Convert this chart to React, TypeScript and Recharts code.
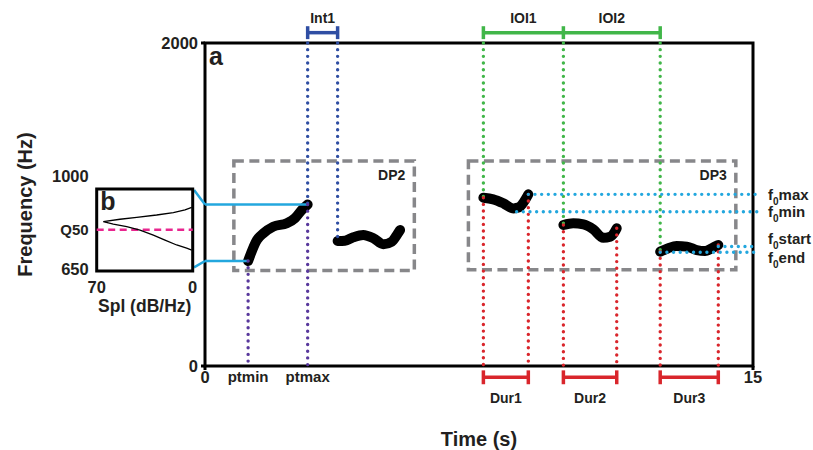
import React from 'react';
import { ComposedChart, Line, XAxis, YAxis, ReferenceLine, ReferenceArea, Scatter } from 'recharts';

const FONT = '"Liberation Sans", Arial, Helvetica, sans-serif';
const INK = '#231f20';
const BLUE = '#2f4ea3';
const PURPLE = '#58389c';
const GREEN = '#41b649';
const RED = '#d9262c';
const CYAN = '#23a7de';
const GRAY = '#87878a';
const MAGENTA = '#e8268f';

// ---- main panel (a) ----
const timeDomain = [0, 15];
const freqDomain = [0, 2000];
const timeTicks = [0, 15];
const freqTicks = [0, 2000];

// pitch contours (time s, frequency Hz)
const contourDP2a = [
  { t: 1.18, f: 650 }, { t: 1.42, f: 780 }, { t: 1.6, f: 822 }, { t: 1.87, f: 863 },
  { t: 2.24, f: 884 }, { t: 2.46, f: 915 }, { t: 2.65, f: 966 }, { t: 2.81, f: 1000 },
];
const contourDP2b = [
  { t: 3.63, f: 774 }, { t: 3.83, f: 776 }, { t: 4.06, f: 797 }, { t: 4.33, f: 811 },
  { t: 4.61, f: 791 }, { t: 4.88, f: 754 }, { t: 5.11, f: 770 }, { t: 5.25, f: 811 }, { t: 5.34, f: 842 },
];
const contourDP3a = [
  { t: 7.62, f: 1042 }, { t: 7.89, f: 1032 }, { t: 8.17, f: 1007 }, { t: 8.44, f: 976 },
  { t: 8.6, f: 983 }, { t: 8.73, f: 1017 }, { t: 8.85, f: 1063 },
];
const contourDP3b = [
  { t: 9.81, f: 873 }, { t: 10.08, f: 884 }, { t: 10.36, f: 877 }, { t: 10.63, f: 846 },
  { t: 10.9, f: 794 }, { t: 11.09, f: 801 }, { t: 11.22, f: 832 }, { t: 11.27, f: 853 },
];
const contourDP3c = [
  { t: 12.46, f: 708 }, { t: 12.68, f: 729 }, { t: 12.91, f: 743 }, { t: 13.19, f: 739 },
  { t: 13.46, f: 718 }, { t: 13.69, f: 712 }, { t: 13.87, f: 729 }, { t: 14.05, f: 749 },
];
const contours = [contourDP2a, contourDP2b, contourDP3a, contourDP3b, contourDP3c];
const dp3Notes = [contourDP3a, contourDP3b, contourDP3c];

// dashed display-phrase boxes
const dpBoxes = [
  { name: 'DP2', t1: 0.79, t2: 5.73, f1: 591, f2: 1269 },
  { name: 'DP3', t1: 7.21, t2: 14.53, f1: 596, f2: 1269 },
];

// f0 measure lines (label, frequency, start time)
const f0Lines = [
  { sub: 'max', f: 1063, t: 8.85, dy: 5.7 },
  { sub: 'min', f: 955, t: 8.53, dy: 5 },
  { sub: 'start', f: 740, t: 14.05, dy: -2.7 },
  { sub: 'end', f: 704, t: 12.46, dy: 10.6 },
];
const f0LineEnd = 15.11;

// pitch-range connectors from inset (b)
const connectorTop = [{ t: -0.3, f: 1090 }, { t: 0, f: 1000 }, { t: 2.81, f: 1000 }];
const connectorBottom = [{ t: -0.3, f: 611 }, { t: 0, f: 650 }, { t: 1.18, f: 650 }];

// bracket levels
const topBracketF = 2064;
const topTick = 40;
const bottomBracketF = -70;
const bottomTick = 43;

// ---- inset panel (b) ----
const splDomain = [0, 70];
const splTicks = [70, 0];
const insetFreqDomain = [642, 1000];
const Q50 = 797;
const insetFreqTicks = [650, Q50, 1000];
const insetBoxTop = 951;
const spectrum = [
  { spl: 0.7, f: 882 }, { spl: 5.6, f: 872 }, { spl: 14.1, f: 862 }, { spl: 26.3, f: 853 },
  { spl: 40.8, f: 844 }, { spl: 53.0, f: 837 }, { spl: 65.2, f: 828 }, { spl: 57.9, f: 819 },
  { spl: 48.1, f: 809 }, { spl: 38.4, f: 796 }, { spl: 28.7, f: 777 }, { spl: 20.2, f: 758 },
  { spl: 11.7, f: 740 }, { spl: 4.4, f: 728 }, { spl: 0.7, f: 721 },
];

const txt = { fill: INK, fontFamily: FONT, fontWeight: 700 };
const dotted = { strokeDasharray: '0 6.67', strokeLinecap: 'round' as const, strokeWidth: 3.4 };

const freqTitle = (props: any) => {
  const vb = props.viewBox;
  const x = vb.x + 32;
  const y = vb.y + vb.height / 2;
  return (
    <text x={x} y={y} transform={`rotate(-90 ${x} ${y})`} textAnchor="middle" {...txt} fontSize={20}>
      Frequency (Hz)
    </text>
  );
};

const f0Label = (sub: string, dy: number) => (props: any) => {
  const vb = props.viewBox;
  const x = vb.x + vb.width + 11;
  const y = vb.y + dy;
  return (
    <text x={x} y={y} {...txt} fontSize={15}>
      f<tspan dy={5} fontSize={10}>0</tspan>
      <tspan dy={-5}>{sub}</tspan>
    </text>
  );
};

const InsetYTick = (props: any) => {
  const { x, y, payload } = props;
  const isQ = payload.value === Q50;
  return (
    <text x={x} y={y} dy={isQ ? 5.5 : 6} textAnchor="end" {...txt} fontSize={isQ ? 15 : 16.5}>
      {isQ ? 'Q50' : payload.value}
    </text>
  );
};

const NoShape = () => <g />;

function seg(key: string, a: { t: number; f: number }, b: { t: number; f: number }, color: string, extra: any = {}) {
  return (
    <ReferenceLine
      key={key}
      segment={[{ x: a.t, y: a.f }, { x: b.t, y: b.f }]}
      stroke={color}
      ifOverflow="visible"
      {...extra}
    />
  );
}

function bracket(key: string, stops: number[], level: number, tick: number, color: string, labels: string[], pos: 'top' | 'bottom', offset: number) {
  const els: any[] = [];
  stops.forEach((s, i) => {
    els.push(seg(`${key}-tick-${i}`, { t: s, f: level - tick }, { t: s, f: level + tick }, color, { strokeWidth: 3.5 }));
  });
  for (let i = 0; i < stops.length - 1; i++) {
    els.push(
      seg(`${key}-bar-${i}`, { t: stops[i], f: level }, { t: stops[i + 1], f: level }, color, {
        strokeWidth: 3.5,
        label: { value: labels[i], position: pos, offset, ...txt, fontSize: 14 },
      })
    );
  }
  return els;
}

export default function App() {
  const c1 = contourDP2a;
  const c2 = contourDP2b;
  const first = (c: any[]) => c[0];
  const last = (c: any[]) => c[c.length - 1];

  return (
    <div style={{ position: 'absolute', left: 0, top: 0, width: 813, height: 450, background: '#fff' }}>
      <div style={{ position: 'absolute', left: 0, top: 0 }}>
        <ComposedChart width={813} height={450} margin={{ top: 43, right: 60, bottom: 54, left: 0 }}>
          <XAxis
            type="number"
            dataKey="t"
            domain={timeDomain}
            ticks={timeTicks}
            allowDataOverflow
            height={30}
            axisLine={false}
            tickLine={{ stroke: '#000', strokeWidth: 3 }}
            tickSize={4}
            tickMargin={1}
            tick={{ ...txt, fontSize: 16.5 }}
            label={{ value: 'Time (s)', position: 'bottom', offset: 35.7, ...txt, fontSize: 20 }}
          />
          <YAxis
            type="number"
            dataKey="f"
            domain={freqDomain}
            ticks={freqTicks}
            allowDataOverflow
            width={205}
            axisLine={false}
            tickLine={{ stroke: '#000', strokeWidth: 3 }}
            tickSize={4}
            tickMargin={3}
            tick={{ ...txt, fontSize: 16.5 }}
            label={freqTitle}
          />

          {dpBoxes.map((b) => (
            <ReferenceArea
              key={b.name}
              x1={b.t1}
              x2={b.t2}
              y1={b.f1}
              y2={b.f2}
              fill="none"
              stroke={GRAY}
              strokeWidth={3.5}
              strokeDasharray="10 5.5"
              ifOverflow="visible"
              label={{ value: b.name, position: 'insideTopRight', offset: 9, ...txt, fontSize: 14 }}
            />
          ))}

          {contours.map((c, i) => (
            <Line
              key={`c${i}`}
              data={c}
              dataKey="f"
              type="monotone"
              stroke="#000"
              strokeWidth={10}
              strokeLinecap="round"
              dot={false}
              activeDot={false}
              isAnimationActive={false}
            />
          ))}

          {/* connectors from inset */}
          {seg('cyt0', connectorTop[0], connectorTop[1], CYAN, { strokeWidth: 2.5 })}
          {seg('cyt1', connectorTop[1], connectorTop[2], CYAN, { strokeWidth: 2.5 })}
          {seg('cyb0', connectorBottom[0], connectorBottom[1], CYAN, { strokeWidth: 2.5 })}
          {seg('cyb1', connectorBottom[1], connectorBottom[2], CYAN, { strokeWidth: 2.5 })}

          {/* DP2 timing lines */}
          {seg('ptmin', first(c1), { t: first(c1).t, f: 0 }, PURPLE, {
            ...dotted,
            label: { value: 'ptmin', position: 'bottom', offset: 5, ...txt, fontSize: 15 },
          })}
          {seg('ptmaxTop', { t: last(c1).t, f: 2000 }, last(c1), BLUE, dotted)}
          {seg('ptmax', last(c1), { t: last(c1).t, f: 0 }, PURPLE, {
            ...dotted,
            label: { value: 'ptmax', position: 'bottom', offset: 5, ...txt, fontSize: 15 },
          })}
          {seg('int1end', { t: first(c2).t, f: 2000 }, first(c2), BLUE, dotted)}

          {/* DP3 timing lines */}
          {dp3Notes.map((c, i) => seg(`gs${i}`, { t: first(c).t, f: 2000 }, first(c), GREEN, dotted))}
          {dp3Notes.map((c, i) => seg(`rs${i}`, first(c), { t: first(c).t, f: 0 }, RED, dotted))}
          {dp3Notes.map((c, i) => seg(`re${i}`, last(c), { t: last(c).t, f: 0 }, RED, dotted))}

          {/* f0 measures */}
          {f0Lines.map((l) =>
            seg(`f0${l.sub}`, { t: l.t, f: l.f }, { t: f0LineEnd, f: l.f }, CYAN, {
              ...dotted,
              label: f0Label(l.sub, l.dy),
            })
          )}

          {/* brackets */}
          {bracket('int', [last(c1).t, first(c2).t], topBracketF, topTick, BLUE, ['Int1'], 'top', 10)}
          {bracket('ioi', dp3Notes.map((c) => first(c).t), topBracketF, topTick, GREEN, ['IOI1', 'IOI2'], 'top', 10)}
          {dp3Notes.map((c, i) =>
            bracket(`dur${i}`, [first(c).t, last(c).t], bottomBracketF, bottomTick, RED, [`Dur${i + 1}`], 'bottom', 16)
          )}

          {/* frame */}
          <ReferenceArea
            x1={timeDomain[0]}
            x2={timeDomain[1]}
            y1={freqDomain[0]}
            y2={freqDomain[1]}
            fill="none"
            stroke="#000"
            strokeWidth={3}
            ifOverflow="visible"
            label={{ value: 'a', position: 'insideTopLeft', offset: 4, ...txt, fontSize: 25 }}
          />
        </ComposedChart>
      </div>

      <div style={{ position: 'absolute', left: 0, top: 140 }}>
        <ComposedChart width={220} height={190} margin={{ top: 36, right: 27.3, bottom: 29, left: 0 }}>
          <XAxis
            type="number"
            dataKey="spl"
            domain={splDomain}
            ticks={splTicks}
            reversed
            allowDataOverflow
            height={30}
            axisLine={false}
            tickLine={false}
            tickSize={0}
            tickMargin={10}
            tick={{ ...txt, fontSize: 16.5 }}
            label={{ value: 'Spl (dB/Hz)', position: 'bottom', offset: -1.5, ...txt, fontSize: 17.5 }}
          />
          <YAxis
            type="number"
            dataKey="f"
            domain={insetFreqDomain}
            ticks={insetFreqTicks}
            allowDataOverflow
            width={96.7}
            axisLine={false}
            tickLine={false}
            tickSize={0}
            tickMargin={8}
            tick={InsetYTick}
          />
          <ReferenceLine
            segment={[{ x: 70, y: Q50 }, { x: 0, y: Q50 }]}
            stroke={MAGENTA}
            strokeWidth={2.5}
            strokeDasharray="7 4.5"
          />
          <Scatter
            data={spectrum}
            dataKey="f"
            line={{ stroke: '#000', strokeWidth: 1.3 }}
            shape={NoShape}
            isAnimationActive={false}
          />
          <ReferenceArea
            x1={splDomain[0]}
            x2={splDomain[1]}
            y1={insetFreqDomain[0]}
            y2={insetBoxTop}
            fill="none"
            stroke="#000"
            strokeWidth={3}
            ifOverflow="visible"
            label={{ value: 'b', position: 'insideTopLeft', offset: 3.5, ...txt, fontSize: 25 }}
          />
        </ComposedChart>
      </div>
    </div>
  );
}
